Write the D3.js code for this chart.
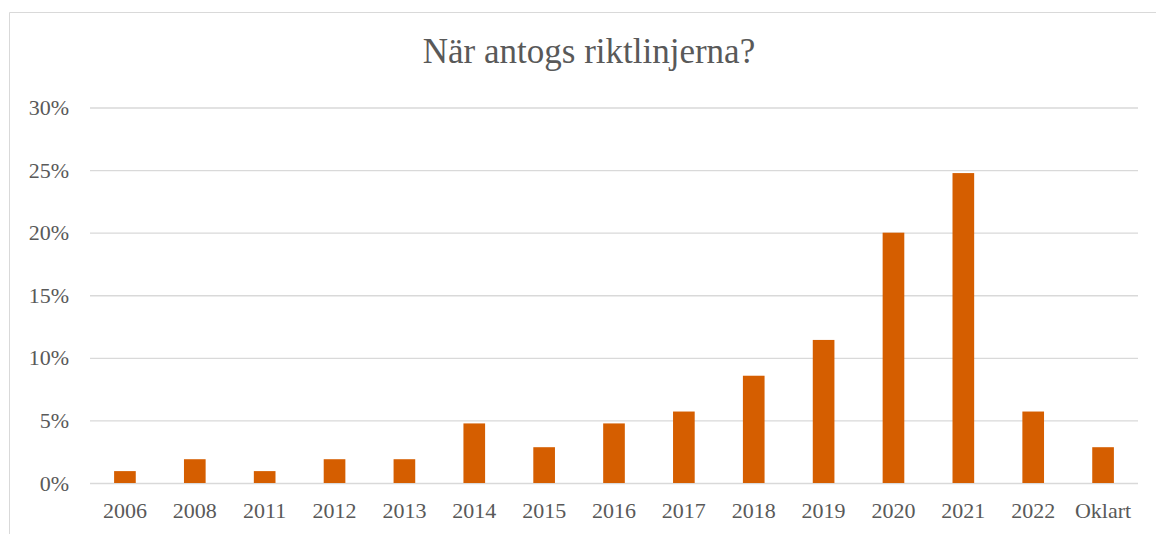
<!DOCTYPE html>
<html>
<head>
<meta charset="utf-8">
<script src="https://cdn.jsdelivr.net/npm/d3@7"></script>
<style>
  body { margin: 0; background: #fff; }
  svg { display: block; }
  svg text { font-family: 'Liberation Serif', 'DejaVu Serif', serif; }
</style>
</head>
<body>
<svg id="svg" width="1156" height="534"></svg>
<script>
var categories = ["2006","2008","2011","2012","2013","2014","2015","2016","2017","2018","2019","2020","2021","2022","Oklart"];
var values = [0.95, 1.9, 0.95, 1.9, 1.9, 4.76, 2.86, 4.76, 5.71, 8.57, 11.43, 20.0, 24.76, 5.71, 2.86];
var yTicks = [0, 5, 10, 15, 20, 25, 30];
var title = "När antogs riktlinjerna?";

var svg = d3.select("#svg");
var padding = {top: 107.5, right: 18, bottom: 51, left: 90};
var chartArea = {
  width: 1156 - padding.left - padding.right,
  height: 534 - padding.top - padding.bottom
};

// chart border (left and top visible)
svg.append("path")
  .attr("d", "M9.5,534 L9.5,12.5 L1156,12.5")
  .attr("fill", "none")
  .attr("stroke", "#d9d9d9")
  .attr("stroke-width", 1);

svg.append("text")
  .attr("x", 589)
  .attr("y", 63)
  .attr("text-anchor", "middle")
  .attr("fill", "#595959")
  .style("font-size", "35px")
  .text(title);

var yScale = d3.scaleLinear().domain([0, 30]).range([chartArea.height, 0]);
var xScale = d3.scaleBand().domain(categories).range([0, chartArea.width]).paddingInner(0.69).paddingOuter(0.345);

var g = svg.append("g").attr("transform", "translate(" + padding.left + "," + padding.top + ")");

// grid
var grid = g.append("g")
  .call(d3.axisLeft(yScale).tickValues(yTicks).tickSize(-chartArea.width).tickFormat(""));
grid.select(".domain").remove();
grid.selectAll("line").attr("stroke", "#d9d9d9").attr("stroke-width", 1.3);

// y labels
var yAxis = g.append("g")
  .call(d3.axisLeft(yScale).tickValues(yTicks).tickSize(0).tickPadding(21).tickFormat(function(d){ return d + "%"; }));
yAxis.select(".domain").remove();
yAxis.selectAll("text").attr("fill", "#595959").attr("font-family", null).style("font-size", "22px");

// x labels
var xAxis = g.append("g")
  .attr("transform", "translate(0," + chartArea.height + ")")
  .call(d3.axisBottom(xScale).tickSize(0).tickPadding(19));
xAxis.select(".domain").remove();
xAxis.selectAll("text").attr("fill", "#595959").style("font-size", "22px");
yAxis.attr("font-family", null);
xAxis.attr("font-family", null);

// bars
g.append("g").selectAll("rect").data(values).enter()
  .append("rect")
  .attr("x", function(d, i){ return xScale(categories[i]); })
  .attr("y", function(d){ return yScale(d); })
  .attr("width", xScale.bandwidth())
  .attr("height", function(d){ return chartArea.height - yScale(d); })
  .attr("fill", "#d55e00");
</script>
</body>
</html>
